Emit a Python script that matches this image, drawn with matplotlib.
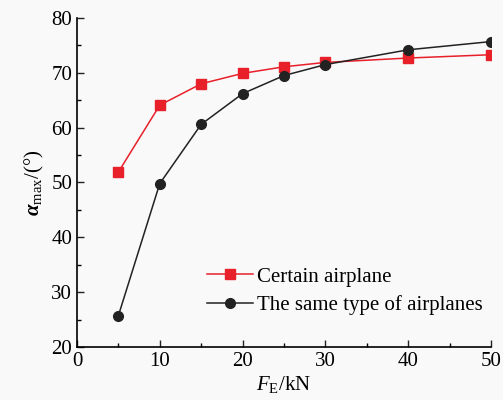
import numpy as np
import matplotlib.pyplot as plt

plt.rcParams['font.family'] = ['Liberation Serif', 'DejaVu Serif']
plt.rcParams['mathtext.fontset'] = 'custom'
plt.rcParams['mathtext.rm'] = 'Liberation Serif'
plt.rcParams['mathtext.it'] = 'Liberation Serif:italic'
plt.rcParams['mathtext.bf'] = 'Liberation Serif:bold:italic'

# data
force = [5, 10, 15, 20, 25, 30, 40, 50]
certain = [51.9, 64.1, 68.0, 69.9, 71.1, 71.9, 72.7, 73.3]
same_type = [25.7, 49.8, 60.6, 66.2, 69.5, 71.5, 74.2, 75.7]

fig = plt.figure(figsize=(5.03, 4.0), dpi=100, facecolor='#f9f9f9')
ax = fig.add_axes([0.153, 0.1325, 0.823, 0.8225])
ax.set_facecolor('#f9f9f9')

ax.plot(force, certain, color='#e8202a', marker='s', markersize=7, linewidth=1.1,
        label='Certain airplane')
ax.plot(force, same_type, color='#222222', marker='o', markersize=7, linewidth=1.1,
        label='The same type of airplanes')

ax.set_xlim(0, 50)
ax.set_ylim(20, 80)
ax.set_xticks([0, 10, 20, 30, 40, 50])
ax.set_yticks([20, 30, 40, 50, 60, 70, 80])
ax.set_xticks(np.arange(5, 50, 10), minor=True)
ax.set_yticks(np.arange(25, 80, 10), minor=True)
ax.tick_params(direction='in', labelsize=15, length=5, width=1, color='#222222')
ax.tick_params(which='minor', direction='in', length=3, width=1)
for s in ['top', 'right']:
    ax.spines[s].set_visible(False)
for s in ['left', 'bottom']:
    ax.spines[s].set_linewidth(1.2)

ax.set_xlabel(r'$F_{\rm E}$/kN', fontsize=15, labelpad=2)
ax.set_ylabel(r'$\mathbf{\alpha}_{\rm max}$/(°)', fontsize=15, labelpad=4)

ax.legend(loc='lower right', bbox_to_anchor=(1.0, 0.072), frameon=False, fontsize=15,
          handlelength=2.2, handletextpad=0.2, labelspacing=0.4, borderaxespad=0)

fig.savefig('out.png', dpi=100, facecolor=fig.get_facecolor())
